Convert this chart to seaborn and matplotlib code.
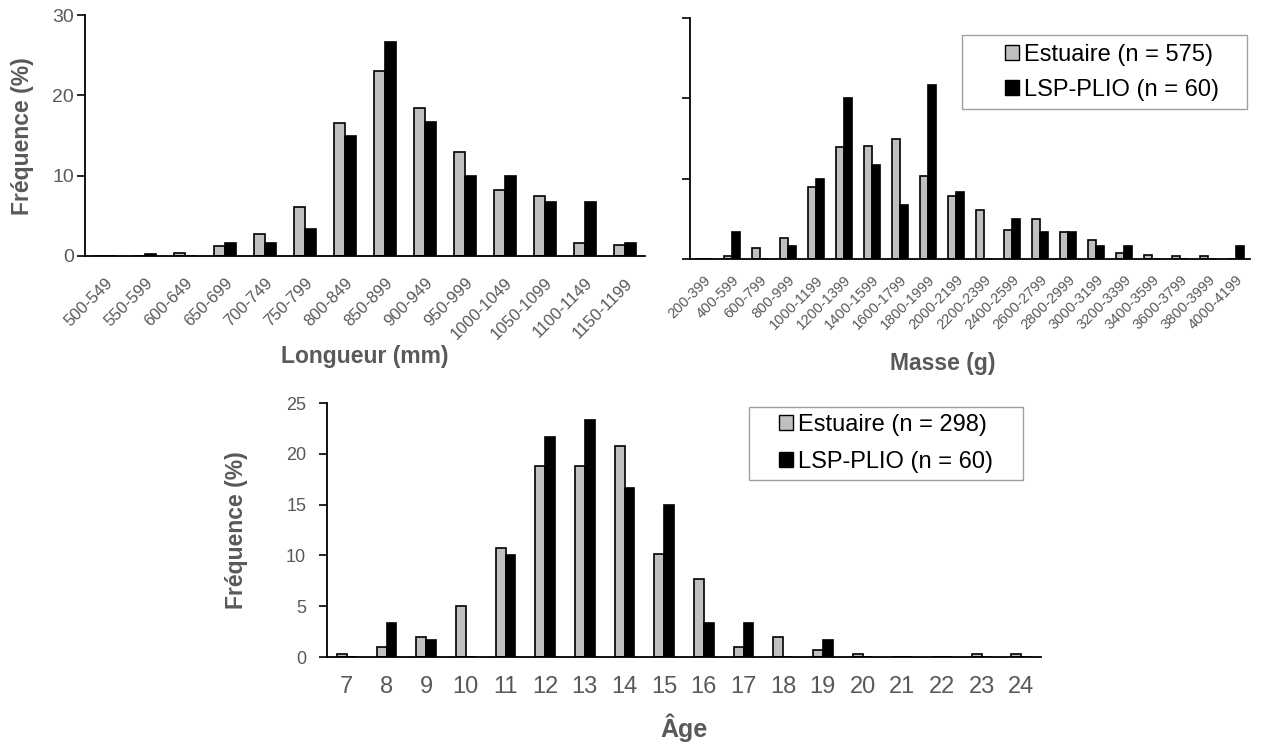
import matplotlib
matplotlib.use("Agg")
import matplotlib.pyplot as plt
import seaborn as sns
import pandas as pd
import numpy as np
from matplotlib.patches import Patch, Rectangle

# ---- data ----
len_cats = ["500-549", "550-599", "600-649", "650-699", "700-749", "750-799", "800-849",
            "850-899", "900-949", "950-999", "1000-1049", "1050-1099", "1100-1149", "1150-1199"]
len_estuaire = [0.0, 0.0, 0.35, 1.2, 2.8, 6.1, 16.5, 23.0, 18.4, 12.9, 8.2, 7.5, 1.6, 1.4]
len_lsp = [0.0, 0.2, 0.0, 1.67, 1.67, 3.33, 15.0, 26.67, 16.67, 10.0, 10.0, 6.67, 6.67, 1.67]

mass_cats = ["200-399", "400-599", "600-799", "800-999", "1000-1199", "1200-1399", "1400-1599",
             "1600-1799", "1800-1999", "2000-2199", "2200-2399", "2400-2599", "2600-2799",
             "2800-2999", "3000-3199", "3200-3399", "3400-3599", "3600-3799", "3800-3999", "4000-4199"]
mass_estuaire = [0.0, 0.35, 1.4, 2.6, 9.0, 13.9, 14.1, 15.0, 10.3, 7.8, 6.1, 3.6, 5.0,
                 3.3, 2.4, 0.7, 0.5, 0.35, 0.35, 0.0]
mass_lsp = [0.0, 3.33, 0.0, 1.67, 10.0, 20.0, 11.67, 6.67, 21.67, 8.33, 0.0, 5.0, 3.33,
            3.33, 1.67, 1.67, 0.0, 0.0, 0.0, 1.67]

age_cats = ["7", "8", "9", "10", "11", "12", "13", "14", "15", "16", "17", "18",
            "19", "20", "21", "22", "23", "24"]
age_estuaire = [0.34, 1.0, 2.0, 5.0, 10.7, 18.8, 18.8, 20.8, 10.1, 7.7, 1.0, 2.0,
                0.67, 0.34, 0.0, 0.0, 0.34, 0.34]
age_lsp = [0.0, 3.33, 1.67, 0.0, 10.0, 21.67, 23.33, 16.67, 15.0, 3.33, 3.33, 0.0,
           1.67, 0.0, 0.0, 0.0, 0.0, 0.0]

groups = ["Estuaire", "LSP-PLIO"]
legend_top = ["Estuaire (n = 575)", "LSP-PLIO (n = 60)"]
legend_bottom = ["Estuaire (n = 298)", "LSP-PLIO (n = 60)"]

GRAY = "#C0C0C0"
BLACK = "#000000"
TXT = "#595959"

sns.set_theme(style="white")
plt.rcParams["font.family"] = ["Liberation Sans", "DejaVu Sans"]


def long_df(cats, a, b):
    return pd.DataFrame({
        "cat": list(cats) * 2,
        "val": list(a) + list(b),
        "grp": [groups[0]] * len(cats) + [groups[1]] * len(cats),
    })


def style_axes(ax, cats, ymax, ystep, show_ylabels, xrot, xfs, yfs, xpad, ypad):
    n = len(cats)
    ax.set_xlim(-0.5, n - 0.5)
    ax.set_ylim(0, ymax)
    ax.set_yticks(np.arange(0, ymax + 0.01, ystep))
    if show_ylabels:
        ax.set_yticklabels([f"{int(v)}" for v in np.arange(0, ymax + 0.01, ystep)],
                           fontsize=yfs, color=TXT)
    else:
        ax.set_yticklabels([])
    ax.set_xticks(np.arange(n))
    if xrot:
        ax.set_xticklabels(cats, rotation=45, ha="right", rotation_mode="anchor",
                           fontsize=xfs, color=TXT)
    else:
        ax.set_xticklabels(cats, fontsize=xfs, color=TXT)
    ax.tick_params(axis="x", which="major", length=0, pad=xpad)
    ax.set_xticks(np.arange(n + 1) - 0.5, minor=True)
    ax.tick_params(axis="x", which="minor", length=6, width=1.2, color="black", direction="out")
    ax.tick_params(axis="y", which="major", length=6, width=1.2, color="black",
                   direction="out", left=True, pad=ypad)
    for s in ["top", "right"]:
        ax.spines[s].set_visible(False)
    for s in ["left", "bottom"]:
        ax.spines[s].set_color("black")
        ax.spines[s].set_linewidth(1.3)
    ax.set_xlabel("")
    ax.set_ylabel("")
    ax.grid(False)


W, H = 1262, 746
fig = plt.figure(figsize=(W / 100, H / 100), dpi=100)


def axes_px(x0, x1, ytop, ybot):
    return fig.add_axes([x0 / W, 1 - ybot / H, (x1 - x0) / W, (ybot - ytop) / H])


def fig_text(x, y, s, **kw):
    fig.text(x / W, 1 - y / H, s, **kw)


def legend_box(labels, x0, y0, x1, y1, hx, hy, spacing):
    fig.add_artist(Rectangle((x0 / W, 1 - y1 / H), (x1 - x0) / W, (y1 - y0) / H,
                             transform=fig.transFigure, facecolor="white",
                             edgecolor="#A0A0A0", linewidth=1.0, zorder=5))
    handles = [Patch(facecolor=GRAY, edgecolor="black", linewidth=1.0),
               Patch(facecolor=BLACK, edgecolor="black", linewidth=1.0)]
    leg = fig.legend(handles, labels, loc="center left",
                     bbox_to_anchor=(hx / W, 1 - hy / H), bbox_transform=fig.transFigure,
                     fontsize=17, frameon=False, handlelength=0.6, handleheight=0.6,
                     handletextpad=0.2, borderpad=0, labelspacing=spacing, borderaxespad=0)
    leg.set_zorder(6)
    for t in leg.get_texts():
        t.set_color("black")


LBL = dict(fontsize=16.5, fontweight="bold", color=TXT)

# top-left: length
ax1 = axes_px(85, 645, 15, 256)
sns.barplot(data=long_df(len_cats, len_estuaire, len_lsp), x="cat", y="val", hue="grp",
            palette=[GRAY, BLACK], edgecolor="black", linewidth=1.2, width=0.55,
            gap=0, ax=ax1, legend=False)
style_axes(ax1, len_cats, 30, 10, True, True, 12, 14, 14, 2)
fig_text(23, 136, "Fréquence (%)", rotation=90, ha="center", va="center", **LBL)
fig_text(365, 363, "Longueur (mm)", ha="center", va="baseline", **LBL)

# top-right: mass
ax2 = axes_px(690, 1250, 18, 259)
sns.barplot(data=long_df(mass_cats, mass_estuaire, mass_lsp), x="cat", y="val", hue="grp",
            palette=[GRAY, BLACK], edgecolor="black", linewidth=1.2, width=0.55,
            gap=0, ax=ax2, legend=False)
style_axes(ax2, mass_cats, 30, 10, False, True, 10.5, 13, 10, 2)
fig_text(943, 370, "Masse (g)", ha="center", va="baseline", **LBL)
legend_box(legend_top, 962, 35, 1247, 109, 1005, 72.5, 0.57)

# bottom: age
ax3 = axes_px(327, 1041, 403, 657)
sns.barplot(data=long_df(age_cats, age_estuaire, age_lsp), x="cat", y="val", hue="grp",
            palette=[GRAY, BLACK], edgecolor="black", linewidth=1.2, width=0.5,
            gap=0, ax=ax3, legend=False)
style_axes(ax3, age_cats, 25, 5, True, False, 17, 13, 14, 9)
fig_text(237, 530, "Fréquence (%)", rotation=90, ha="center", va="center", **LBL)
fig_text(684, 737, "Âge", ha="center", va="baseline", fontsize=18, fontweight="bold", color=TXT)
legend_box(legend_bottom, 749, 407, 1023, 480, 779, 443.5, 0.62)

fig.savefig("out.png", dpi=100, facecolor="white")
